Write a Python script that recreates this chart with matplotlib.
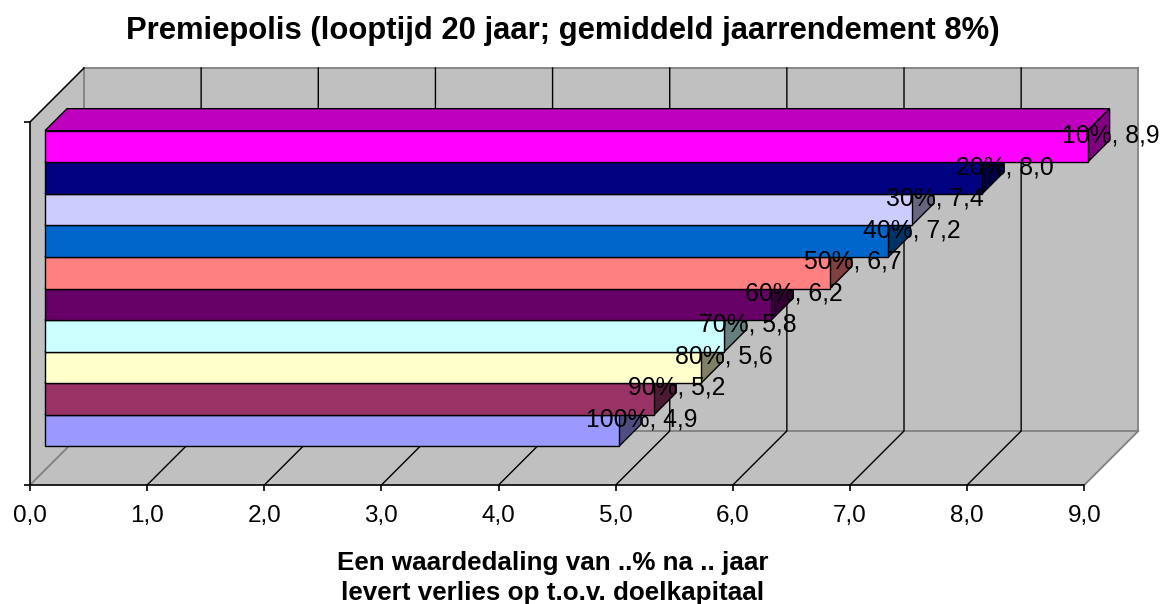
import numpy as np
import matplotlib.pyplot as plt
from matplotlib.patches import Polygon

plt.rcParams['font.family'] = ['Liberation Sans', 'DejaVu Sans']

# data (top bar first)
series = ['10%', '20%', '30%', '40%', '50%', '60%', '70%', '80%', '90%', '100%']
values = [8.9, 8.0, 7.4, 7.2, 6.7, 6.2, 5.8, 5.6, 5.2, 4.9]
value_text = ['8,9', '8,0', '7,4', '7,2', '6,7', '6,2', '5,8', '5,6', '5,2', '4,9']
colors = ['#FF00FF', '#000080', '#CCCCFF', '#0066CC', '#FF8080',
          '#660066', '#CCFFFF', '#FFFFCC', '#993366', '#9999FF']
xticks = np.arange(0, 10)

W, H = 1161, 604
fig = plt.figure(figsize=(W / 100, H / 100), dpi=100)
ax = fig.add_axes([30 / W, (H - 485) / H, 1054.3 / W, 363 / H])
xmax, ymax = 9, 11.5
ax.set_xlim(0, xmax)
ax.set_ylim(0, ymax)

# pixel scale of the data units (for the oblique depth offset)
sx = 1054.3 / xmax
sy = 363 / ymax
DEPTH = 54      # wall depth, px
Z0, Z1 = 15, 37  # bar front / back depth, px


def P(x, y, z):
    return (x + z / sx, y + z / sy)


def shade(c, f):
    r, g, b = [int(c[i:i + 2], 16) / 255 for i in (1, 3, 5)]
    return (r * f, g * f, b * f)


wall = '#C0C0C0'
edge = '#808080'
# floor
ax.add_patch(Polygon([P(0, 0, 0), P(xmax, 0, 0), P(xmax, 0, DEPTH), P(0, 0, DEPTH)],
                     fc=wall, ec='none', clip_on=False, zorder=1))
# left wall
ax.add_patch(Polygon([P(0, 0, 0), P(0, ymax, 0), P(0, ymax, DEPTH), P(0, 0, DEPTH)],
                     fc=wall, ec='none', clip_on=False, zorder=1))
# back wall
ax.add_patch(Polygon([P(0, 0, DEPTH), P(xmax, 0, DEPTH), P(xmax, ymax, DEPTH), P(0, ymax, DEPTH)],
                     fc=wall, ec='none', clip_on=False, zorder=1))

# gray wall edges
for a, b in [(P(0, 0, 0), P(0, 0, DEPTH)), (P(0, 0, DEPTH), P(xmax, 0, DEPTH)),
             (P(xmax, 0, 0), P(xmax, 0, DEPTH)), (P(xmax, 0, DEPTH), P(xmax, ymax, DEPTH)),
             (P(0, ymax, DEPTH), P(xmax, ymax, DEPTH)), (P(0, 0, DEPTH), P(0, ymax, DEPTH))]:
    ax.plot([a[0], b[0]], [a[1], b[1]], color=edge, lw=1.3, clip_on=False, zorder=2)
# top edge of the left wall
a, b = P(0, ymax, 0), P(0, ymax, DEPTH)
ax.plot([a[0], b[0]], [a[1], b[1]], color='black', lw=1.1, clip_on=False, zorder=2)

# gridlines on floor and back wall
for x in xticks[1:-1]:
    a, b, c = P(x, 0, 0), P(x, 0, DEPTH), P(x, ymax, DEPTH)
    ax.plot([a[0], b[0], c[0]], [a[1], b[1], c[1]], color='black', lw=1.0,
            clip_on=False, zorder=2)

# bars, drawn from the bottom one upwards
n = len(values)
for k in range(n - 1, -1, -1):
    i = n - 1 - k
    y0 = 0.75 + i
    y1 = y0 + 1
    v = values[k]
    c = colors[k]
    front = [P(0, y0, Z0), P(v, y0, Z0), P(v, y1, Z0), P(0, y1, Z0)]
    top = [P(0, y1, Z0), P(v, y1, Z0), P(v, y1, Z1), P(0, y1, Z1)]
    side = [P(v, y0, Z0), P(v, y0, Z1), P(v, y1, Z1), P(v, y1, Z0)]
    for poly, f in [(top, 0.75), (side, 0.5), (front, 1.0)]:
        ax.add_patch(Polygon(poly, fc=shade(c, f), ec='black', lw=1.0,
                             joinstyle='miter', clip_on=False, zorder=3))

# data labels
for k in range(n):
    i = n - 1 - k
    ymid = 0.75 + i + 0.5
    ax.text(*P(values[k] + 23 / sx, ymid + 11 / sy, Z0), f'{series[k]}, {value_text[k]}',
            ha='center', va='center', fontsize=17.8, color='black', zorder=5,
            clip_on=False)

for s in ['top', 'right']:
    ax.spines[s].set_visible(False)
for s in ['left', 'bottom']:
    ax.spines[s].set_linewidth(1.2)
    ax.spines[s].set_zorder(2.5)
ax.patch.set_visible(False)

ax.set_xticks(xticks)
ax.set_xticklabels([f'{t:.1f}'.replace('.', ',') for t in xticks], fontsize=17.5)
ax.set_yticks([0, ymax])
ax.set_yticklabels([])
ax.tick_params(direction='out', length=4.5, width=1.2, pad=10)

fig.text(553 / W, 1 - 578 / H,
         'Een waardedaling van ..% na .. jaar\nlevert verlies op t.o.v. doelkapitaal',
         ha='center', va='center', fontsize=18.7, fontweight='bold', linespacing=1.3)
fig.text(563 / W, 1 - 31 / H, 'Premiepolis (looptijd 20 jaar; gemiddeld jaarrendement 8%)',
         ha='center', va='center', fontsize=22.3, fontweight='bold')

fig.savefig('out.png', dpi=100)
